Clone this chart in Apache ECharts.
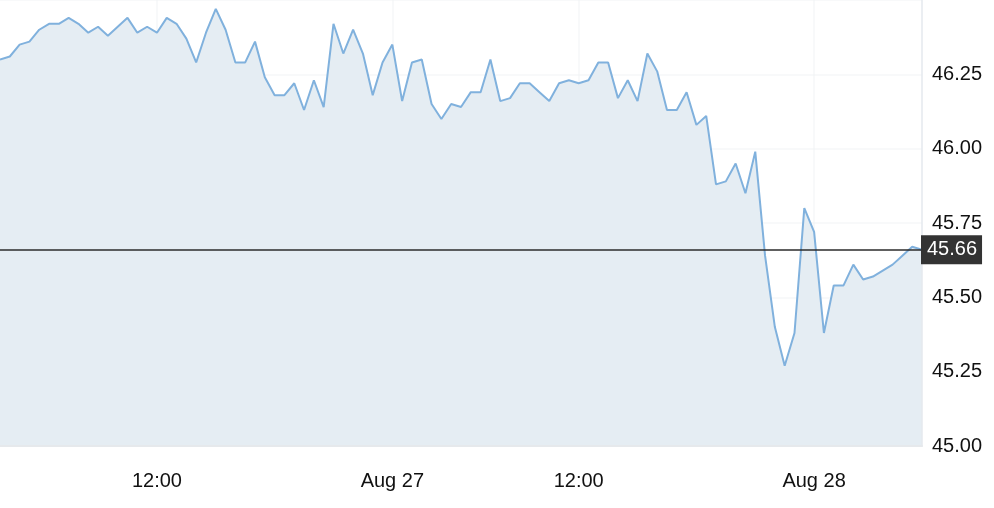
<!DOCTYPE html>
<html>
<head>
<meta charset="utf-8">
<script src="https://cdn.jsdelivr.net/npm/echarts@6/dist/echarts.min.js"></script>
<style>
  html, body { margin: 0; padding: 0; background: #ffffff; }
  #chart { width: 994px; height: 508px; }
</style>
</head>
<body>
<div id="chart"></div>
<script>
// Half-hourly prices, Aug 26 04:00 onward (market pause on Aug 27 morning)
const prices = [
  46.30, 46.31, 46.35, 46.36, 46.40, 46.42, 46.42, 46.44, 46.42, 46.39,
  46.41, 46.38, 46.41, 46.44, 46.39, 46.41, 46.39, 46.44, 46.42, 46.37,
  46.29, 46.39, 46.47, 46.40, 46.29, 46.29, 46.36, 46.24, 46.18, 46.18,
  46.22, 46.13, 46.23, 46.14, 46.42, 46.32, 46.40, 46.32, 46.18, 46.29,
  46.35, 46.16, 46.29, 46.30, 46.15, 46.10, 46.15, 46.14, 46.19, 46.19,
  46.30, 46.16, 46.17, 46.22, 46.22, 46.19, 46.16, 46.22, 46.23, 46.22,
  46.23, 46.29, 46.29, 46.17, 46.23, 46.16, 46.32, 46.26, 46.13, 46.13,
  46.19, 46.08, 46.11, 45.88, 45.89, 45.95, 45.85, 45.99, 45.64, 45.40,
  45.27, 45.38, 45.80, 45.72, 45.38, 45.54, 45.54, 45.61, 45.56, 45.57,
  45.59, 45.61, 45.64, 45.67, 45.66
];

// Category timestamps (30-minute bars, with a trading pause on Aug 27 05:00-07:30)
const monthNames = ['Jan','Feb','Mar','Apr','May','Jun','Jul','Aug','Sep','Oct','Nov','Dec'];
const startStamp = Date.UTC(2024, 7, 26, 4, 0);
const gapStart = Date.UTC(2024, 7, 27, 5, 0);
const gapEnd = Date.UTC(2024, 7, 27, 7, 30);
const stepMs = 30 * 60 * 1000;

function pad(n) { return (n < 10 ? '0' : '') + n; }
const categories = [];
let ts = startStamp;
for (let i = 0; i < prices.length; i++) {
  const d = new Date(ts);
  categories.push(monthNames[d.getUTCMonth()] + ' ' + d.getUTCDate() + ' ' + pad(d.getUTCHours()) + ':' + pad(d.getUTCMinutes()));
  ts += stepMs;
  if (ts === gapStart) ts = gapEnd;
}

// Y-axis ticks
const yMin = 45.0, yMax = 46.5, yStep = 0.25;
const lastPrice = prices[prices.length - 1];

function isMajor(cat) {
  return cat.endsWith(' 00:00') || cat.endsWith(' 12:00');
}
function tickText(cat) {
  const parts = cat.split(' ');
  if (parts[2] === '00:00') return parts[0] + ' ' + parts[1];
  return parts[2];
}

const FONT = "'Liberation Sans', Arial, Helvetica, sans-serif";
const GRID_COLOR = 'rgba(238,241,244,0.6)';

const chart = echarts.init(document.getElementById('chart'), null, { renderer: 'canvas' });
chart.setOption({
  animation: false,
  backgroundColor: '#ffffff',
  grid: { left: 0, right: 72, top: -3, bottom: 62, containLabel: false },
  xAxis: {
    type: 'category',
    z: 3,
    data: categories,
    boundaryGap: false,
    axisLine: { show: true, lineStyle: { color: '#e6e9ec', width: 2 } },
    axisTick: { show: false },
    axisLabel: {
      interval: function (idx, val) { return isMajor(val); },
      formatter: function (val) { return tickText(val); },
      color: '#111111',
      fontFamily: FONT,
      fontSize: 20,
      margin: 25
    },
    splitLine: {
      show: true,
      interval: function (idx, val) { return isMajor(val); },
      lineStyle: { color: GRID_COLOR, width: 1.5 }
    }
  },
  yAxis: {
    type: 'value',
    z: 3,
    position: 'right',
    min: yMin,
    max: yMax,
    interval: yStep,
    axisLine: { show: true, lineStyle: { color: '#e4e9ee', width: 1.5 } },
    axisTick: { show: false },
    axisLabel: {
      showMaxLabel: false,
      formatter: function (v) { return v.toFixed(2); },
      color: '#111111',
      fontFamily: FONT,
      fontSize: 20,
      margin: 10
    },
    splitLine: { show: true, lineStyle: { color: GRID_COLOR, width: 1.5 } }
  },
  series: [{
    type: 'line',
    data: prices,
    symbol: 'none',
    lineStyle: { color: '#80b1dd', width: 2 },
    areaStyle: { color: '#e5edf3', opacity: 1, origin: 'start' },
    markLine: {
      silent: true,
      symbol: ['none', 'none'],
      lineStyle: { color: '#2b2b2b', width: 1.5, type: 'solid' },
      label: {
        show: true,
        position: 'end',
        distance: -1,
        formatter: function () { return lastPrice.toFixed(2); },
        color: '#ffffff',
        backgroundColor: '#333333',
        fontFamily: FONT,
        fontSize: 20,
        padding: [5, 5, 4, 6]
      },
      data: [{ yAxis: lastPrice }]
    }
  }]
});
</script>
</body>
</html>
